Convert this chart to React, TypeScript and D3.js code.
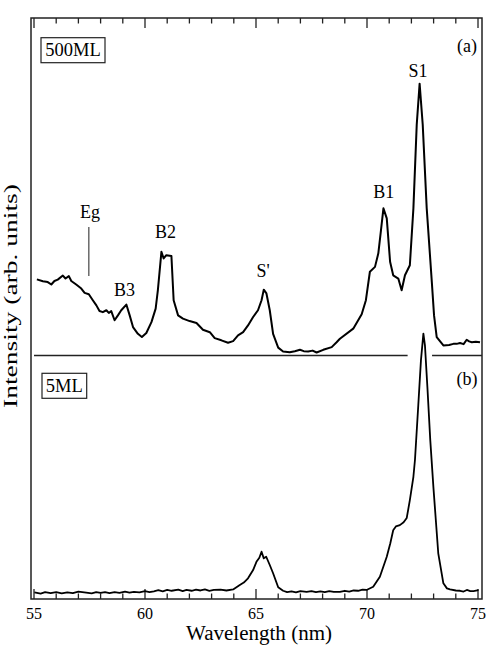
import React, { useEffect, useRef } from 'react';
import * as d3 from 'd3';

// 500ML spectrum (panel a): wavelength in nm, intensity in arb. units
const wl500 = [
  55.13, 55.4, 55.62, 55.78, 55.92, 56.07, 56.3, 56.42, 56.57, 56.68, 56.9, 57.13, 57.28, 57.47,
  57.65, 57.81, 57.95, 58.1, 58.26, 58.37, 58.48, 58.63, 58.78, 58.93, 59.16, 59.31, 59.46, 59.68,
  59.86, 60.06, 60.29, 60.48, 60.58, 60.74, 60.84, 60.96, 61.19, 61.29, 61.49, 61.71, 62.01, 62.32,
  62.61, 62.92, 63.14, 63.44, 63.74, 63.97, 64.19, 64.42, 64.64, 64.87, 65.09, 65.25, 65.35, 65.47,
  65.62, 65.77, 66.0, 66.22, 66.52, 66.75, 66.98, 67.15, 67.35, 67.55, 67.73, 68.03, 68.41, 68.63,
  68.78, 69.38, 69.76, 69.95, 70.13, 70.36, 70.51, 70.63, 70.74, 70.89, 71.04, 71.18, 71.41, 71.56,
  71.71, 71.93, 72.09, 72.24, 72.37, 72.51, 72.69, 72.92, 73.02, 73.14, 73.44, 73.7, 73.89, 74.04,
  74.19, 74.35, 74.49, 74.6, 74.72, 74.9, 75.09,
];
const int500 = [
  28.1, 27.4, 27.1, 26.2, 27.5, 28.0, 29.5, 28.4, 29.3, 27.5, 26.2, 24.7, 23.1, 22.6,
  20.4, 18.5, 16.4, 16.0, 16.7, 15.7, 16.4, 13.0, 14.8, 16.7, 18.8, 14.8, 10.5, 8.0,
  6.8, 8.3, 12.3, 17.3, 24.1, 38.3, 35.8, 37.0, 36.7, 20.4, 14.8, 13.6, 12.7, 12.0,
  9.5, 8.6, 6.4, 5.6, 4.7, 5.3, 7.4, 8.6, 11.1, 14.2, 16.7, 20.4, 24.3, 22.9,
  16.7, 8.0, 2.9, 1.5, 1.2, 1.6, 2.1, 1.6, 1.5, 1.8, 1.1, 2.1, 3.1, 4.9,
  6.2, 9.9, 15.2, 20.4, 30.9, 32.7, 37.7, 46.3, 54.3, 50.6, 34.6, 29.6, 28.4, 24.1,
  29.6, 33.3, 54.3, 85.2, 100.3, 85.2, 54.3, 27.1, 14.8, 6.8, 3.7, 3.9, 4.3, 4.3,
  4.6, 4.2, 5.8, 5.2, 4.9, 5.1, 4.9,
];

// 5ML spectrum (panel b)
const wl5 = [
  55.02, 55.3, 55.5, 55.75, 56.0, 56.25, 56.5, 56.75, 57.0, 57.35, 57.6, 57.8, 58.0, 58.2, 58.4,
  58.63, 58.85, 59.1, 59.3, 59.5, 59.75, 60.0, 60.2, 60.4, 60.6, 60.8, 61.0, 61.2, 61.5, 61.7,
  61.87, 62.1, 62.3, 62.5, 62.7, 62.9, 63.1, 63.4, 63.67, 63.97, 64.27, 64.45, 64.64, 64.87, 65.02,
  65.15, 65.25, 65.35, 65.46, 65.62, 65.77, 66.0, 66.22, 66.4, 66.6, 66.8, 67.0, 67.28, 67.5, 67.7,
  67.9, 68.1, 68.3, 68.5, 68.78, 69.0, 69.2, 69.4, 69.6, 69.8, 69.98, 70.28, 70.58, 70.89, 71.05,
  71.18, 71.3, 71.48, 71.65, 71.79, 71.93, 72.09, 72.16, 72.31, 72.43, 72.54, 72.61, 72.72, 72.85,
  72.99, 73.21, 73.44, 73.6, 73.74, 74.0, 74.19, 74.35, 74.5, 74.65, 74.8, 75.02,
];
const int5 = [
  2.5, 2.0, 2.6, 2.2, 2.6, 2.1, 2.5, 2.2, 2.8, 2.4, 2.1, 2.6, 2.3, 2.6, 2.2,
  2.6, 2.3, 2.8, 2.4, 2.7, 2.5, 3.0, 2.6, 2.9, 3.3, 2.9, 3.4, 3.1, 3.5, 3.0,
  3.4, 3.1, 3.5, 3.2, 3.6, 3.1, 3.4, 3.5, 3.2, 3.6, 5.3, 6.2, 7.8, 10.9, 14.0,
  15.5, 17.8, 15.3, 15.9, 12.8, 9.7, 4.4, 3.1, 2.6, 2.9, 2.5, 3.0, 2.7, 3.0, 2.6,
  2.9, 2.6, 3.0, 2.7, 2.7, 3.1, 2.8, 3.2, 3.1, 3.5, 3.4, 4.6, 8.4, 15.9, 21.0,
  25.9, 27.3, 27.8, 28.9, 30.5, 37.2, 46.0, 52.3, 72.9, 89.8, 99.9, 95.5, 79.8, 59.8,
  42.2, 17.2, 5.9, 4.0, 3.6, 3.2, 3.1, 2.8, 3.4, 3.0, 3.0, 3.3,
];

const majorTicks = [55, 60, 65, 70, 75];
const minorTicks = d3.range(55, 76, 1).filter((t) => t % 5 !== 0);

// peak labels on panel (a): position in data units
const peakLabels = [
  { text: 'S1', wl: 72.3, val: 102.8 },
  { text: 'B1', wl: 70.75, val: 58.1 },
  { text: 'B2', wl: 60.92, val: 43.4 },
  { text: 'B3', wl: 59.08, val: 22.0 },
  { text: "S'", wl: 65.32, val: 29.0 },
  { text: 'Eg', wl: 57.52, val: 50.7 },
];
const egMarker = { wl: 57.47, from: 47.4, to: 29.3 };

const App = () => {
  const ref = useRef<SVGSVGElement | null>(null);

  useEffect(() => {
    if (!ref.current) return;
    const svg = d3.select(ref.current);
    svg.selectAll('*').remove();

    const left = 31, right = 482, top = 18, bottom = 599;
    const font = '"Liberation Serif", "Times New Roman", serif';

    const x = d3.scaleLinear().domain([54.865, 75.18]).range([left, right]);
    const yTop = d3.scaleLinear().domain([0, 100]).range([355.5, 84.5]);
    const yBot = d3.scaleLinear().domain([0, 100]).range([bottom, 333.3]);

    // frame
    svg.append('rect')
      .attr('x', left).attr('y', top)
      .attr('width', right - left).attr('height', bottom - top)
      .attr('fill', 'none').attr('stroke', '#222').attr('stroke-width', 1.5);

    // inward ticks, top and bottom
    const tickG = svg.append('g').attr('stroke', '#222').attr('stroke-width', 1.3);
    majorTicks.concat(minorTicks).forEach((t) => {
      const len = t % 5 === 0 ? 10 : 5.5;
      tickG.append('line').attr('x1', x(t)).attr('x2', x(t)).attr('y1', bottom).attr('y2', bottom - len);
      tickG.append('line').attr('x1', x(t)).attr('x2', x(t)).attr('y1', top).attr('y2', top + len);
    });

    svg.append('g').selectAll('text').data(majorTicks).join('text')
      .attr('x', (d) => x(d)).attr('y', 618.5)
      .attr('text-anchor', 'middle')
      .attr('font-family', font).attr('font-size', 16)
      .text((d) => d);

    svg.append('text')
      .attr('x', 259).attr('y', 639.5)
      .attr('text-anchor', 'middle')
      .attr('font-family', font).attr('font-size', 20)
      .attr('textLength', 146).attr('lengthAdjust', 'spacingAndGlyphs')
      .text('Wavelength (nm)');

    svg.append('text')
      .attr('transform', 'translate(17,296) rotate(-90)')
      .attr('text-anchor', 'middle')
      .attr('font-family', font).attr('font-size', 19)
      .attr('textLength', 224).attr('lengthAdjust', 'spacingAndGlyphs')
      .text('Intensity (arb. units)');

    // panel divider, broken where the 5ML peak passes
    const div = svg.append('g').attr('stroke', '#222').attr('stroke-width', 1.3);
    div.append('line').attr('x1', x(55)).attr('x2', x(71.83)).attr('y1', yTop(0)).attr('y2', yTop(0));
    div.append('line').attr('x1', x(72.93)).attr('x2', right).attr('y1', yTop(0)).attr('y2', yTop(0));

    const lineTop = d3.line<number>().x((_, i) => x(wl500[i])).y((d) => yTop(d));
    const lineBot = d3.line<number>().x((_, i) => x(wl5[i])).y((d) => yBot(d));

    svg.append('path').datum(int500)
      .attr('fill', 'none').attr('stroke', '#000').attr('stroke-width', 2)
      .attr('stroke-linejoin', 'round').attr('d', lineTop);
    svg.append('path').datum(int5)
      .attr('fill', 'none').attr('stroke', '#000').attr('stroke-width', 1.8)
      .attr('stroke-linejoin', 'round').attr('d', lineBot);

    // Eg marker
    svg.append('line')
      .attr('x1', x(egMarker.wl)).attr('x2', x(egMarker.wl))
      .attr('y1', yTop(egMarker.from)).attr('y2', yTop(egMarker.to))
      .attr('stroke', '#444').attr('stroke-width', 1.2);

    svg.append('g').selectAll('text').data(peakLabels).join('text')
      .attr('x', (d) => x(d.wl)).attr('y', (d) => yTop(d.val))
      .attr('text-anchor', 'middle')
      .attr('font-family', font).attr('font-size', 18)
      .text((d) => d.text);

    // panel tags
    const boxed = (label: string, bx: number, by: number, bw: number, bh: number) => {
      svg.append('rect').attr('x', bx).attr('y', by).attr('width', bw).attr('height', bh)
        .attr('fill', '#fff').attr('stroke', '#222').attr('stroke-width', 1.2);
      svg.append('text').attr('x', bx + bw / 2).attr('y', by + bh - 6.5)
        .attr('text-anchor', 'middle')
        .attr('font-family', font).attr('font-size', 18.5)
        .text(label);
    };
    boxed('500ML', 41, 37.7, 64, 25);
    boxed('5ML', 42, 373.3, 44.7, 25);

    svg.append('text').attr('x', 477).attr('y', 52).attr('text-anchor', 'end')
      .attr('font-family', font).attr('font-size', 18).text('(a)');
    svg.append('text').attr('x', 477.5).attr('y', 385).attr('text-anchor', 'end')
      .attr('font-family', font).attr('font-size', 18).text('(b)');
  }, []);

  return (
    <svg
      ref={ref}
      width={491}
      height={648}
      style={{ position: 'absolute', left: 0, top: 0, background: '#fff' }}
    />
  );
};

export default App;
